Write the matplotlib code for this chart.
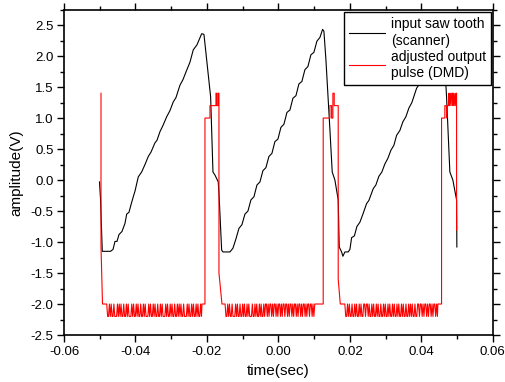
import numpy as np
import matplotlib.pyplot as plt
from matplotlib.ticker import MultipleLocator, FormatStrFormatter

plt.rcParams['font.family'] = ['Liberation Sans', 'DejaVu Sans']

# input saw tooth (scanner)
saw_t = [-0.05007, -0.04979, -0.04929, -0.04699,
         -0.04629, -0.04573, -0.04517, -0.04462, -0.04378, -0.04294, -0.04246,
         -0.04182, -0.04126, -0.04062, -0.04014, -0.03922, -0.03827, -0.03734,
         -0.03642, -0.03566, -0.03455, -0.03399, -0.03315, -0.03231, -0.03127,
         -0.03035, -0.02943, -0.02867, -0.02755, -0.02671, -0.02568, -0.02476,
         -0.02383, -0.02280, -0.02148, -0.02084,
         -0.01897, -0.01832, -0.01776, -0.01684, -0.01656, -0.01589, -0.01552,
         -0.01357,
         -0.01273, -0.01189, -0.01105, -0.01021, -0.00937, -0.00853, -0.00769,
         -0.00685, -0.00601, -0.00517, -0.00434, -0.00350, -0.00266, -0.00182,
         -0.00098, -0.00014, 0.00070, 0.00154, 0.00238, 0.00322, 0.00406,
         0.00490, 0.00573, 0.00657, 0.00741, 0.00825, 0.00909, 0.00993,
         0.01077, 0.01161, 0.01236,
         0.01273, 0.01329, 0.01441, 0.01505, 0.01580, 0.01673, 0.01701,
         0.01768, 0.01804, 0.01860, 0.01952,
         0.02000, 0.02048, 0.02126, 0.02196, 0.02280, 0.02364, 0.02467,
         0.02531, 0.02652, 0.02727, 0.02811, 0.02895, 0.02979, 0.03063,
         0.03147, 0.03231, 0.03306, 0.03399, 0.03483, 0.03566, 0.03650,
         0.03734, 0.03866, 0.03958, 0.04042, 0.04126, 0.04210, 0.04294,
         0.04378, 0.04462, 0.04545, 0.04601,
         0.04705, 0.04797, 0.04881, 0.04985, 0.04993]
saw_v = [-0.03, -0.30, -1.15, -1.15,
         -1.12, -0.99, -0.99, -0.88, -0.83, -0.70, -0.55,
         -0.52, -0.40, -0.27, -0.18, 0.05, 0.13, 0.25,
         0.38, 0.45, 0.60, 0.64, 0.78, 0.88, 1.02,
         1.12, 1.26, 1.33, 1.53, 1.62, 1.77, 1.90,
         2.10, 2.18, 2.36, 2.35,
         1.34, 0.13, 0.08, -0.03, -0.30, -1.13, -1.16,
         -1.16,
         -1.10, -0.95, -0.78, -0.72, -0.55, -0.50, -0.32,
         -0.27, -0.08, -0.03, 0.15, 0.20, 0.38, 0.43,
         0.62, 0.66, 0.85, 0.90, 1.09, 1.13, 1.32,
         1.36, 1.55, 1.59, 1.78, 1.83, 2.02, 2.06,
         2.24, 2.30, 2.43,
         2.40, 1.94, 0.81, 0.13, 0.00, -0.32, -1.08,
         -1.16, -1.23, -1.16, -1.16,
         -1.12, -0.93, -0.90, -0.75, -0.68, -0.55, -0.38,
         -0.33, -0.14, -0.08, 0.06, 0.13, 0.26, 0.35,
         0.48, 0.56, 0.72, 0.80, 0.94, 1.02, 1.16,
         1.25, 1.48, 1.56, 1.70, 1.78, 1.93, 2.00,
         2.15, 2.24, 2.42, 2.40,
         1.34, 0.13, 0.00, -0.32, -1.08]

# adjusted output pulse (DMD): edges and plateaus
pulse_t = [-0.04965, -0.04965, -0.04923, -0.04817,
           -0.02140, -0.02056, -0.02056, -0.01916, -0.01916, -0.01748, -0.01748,
           -0.01729, -0.01729, -0.01692, -0.01692, -0.01664, -0.01664, -0.01580,
           -0.01505,
           0.01029, 0.01253, 0.01253, 0.01441, 0.01441, 0.01488, 0.01488,
           0.01524, 0.01524, 0.01561, 0.01561, 0.01673, 0.01673, 0.01731,
           0.01846,
           0.04462, 0.04565, 0.04565, 0.04657, 0.04657, 0.04700, 0.04710,
           0.04730, 0.04760, 0.04770, 0.04790, 0.04810, 0.04830, 0.04850,
           0.04870, 0.04880, 0.04900, 0.04920, 0.04940, 0.04960, 0.04975,
           0.04985, 0.04985]
pulse_v = [1.40, -1.07, -2.00, -2.00,
           -2.00, -2.00, 1.00, 1.00, 1.20, 1.20, 1.40,
           1.40, 1.20, 1.20, 1.40, 1.40, -1.50, -2.00,
           -2.00,
           -2.00, -2.00, 1.00, 1.00, 1.20, 1.20, 1.00,
           1.00, 1.40, 1.40, 1.20, 1.20, -1.60, -2.00,
           -2.00,
           -2.00, -2.00, 1.00, 1.00, 1.20, 1.20, 1.00,
           1.20, 1.20, 1.40, 1.20, 1.40, 1.20, 1.40,
           1.40, 1.20, 1.40, 1.20, 1.40, 1.20, 1.40,
           1.40, -0.81]

# noisy low level of the pulse: '0' -> -2.0 V, '1' -> -2.2 V
noise_spans = [(-0.04817, -0.02140), (-0.01505, 0.01029), (0.01846, 0.04462)]
noise_codes = [
    "01101011011101010110110101110101101011011010111010110101101101011101011010110110101011011101011010110101101",
    "0110101101110101101101011010111011010110101101001010010100101001010010010100101001010010100101001001010",
    "01101011011010110101100100101101011010110110101101011010110101101011011010101101100100101001010010100101",
]
noise_levels = [-2.0, -2.2]

# merge noise samples into the pulse trace
nt, nv = [], []
for (t0, t1), code in zip(noise_spans, noise_codes):
    dt = (t1 - t0) / len(code)
    for i, c in enumerate(code):
        nt.append(t0 + (i + 0.5) * dt)
        nv.append(noise_levels[int(c)])
red_t = np.concatenate([pulse_t, nt])
red_v = np.concatenate([pulse_v, nv])
order = np.argsort(red_t, kind='stable')
red_t, red_v = red_t[order], red_v[order]

fig = plt.figure(figsize=(5.06, 3.82), dpi=100)
ax = fig.add_axes([0.1265, 0.123, 0.8475, 0.852])

ax.plot(saw_t, saw_v, color='black', lw=0.8, label='input saw tooth\n(scanner)')
ax.plot(red_t, red_v, color='red', lw=0.8, label='adjusted output\npulse (DMD)')

ax.set_xlim(-0.06, 0.06)
ax.set_ylim(-2.5, 2.75)
ax.xaxis.set_major_locator(MultipleLocator(0.02))
ax.xaxis.set_minor_locator(MultipleLocator(0.01))
ax.yaxis.set_major_locator(MultipleLocator(0.5))
ax.yaxis.set_minor_locator(MultipleLocator(0.25))
ax.xaxis.set_major_formatter(FormatStrFormatter('%.2f'))
ax.yaxis.set_major_formatter(FormatStrFormatter('%.1f'))

ax.tick_params(which='both', direction='out', top=True, right=True,
               labelsize=9.5, width=1)
ax.tick_params(axis='x', which='major', length=5, pad=3)
ax.tick_params(axis='y', which='major', length=5, pad=2.5)
ax.tick_params(which='minor', length=3)
for s in ax.spines.values():
    s.set_linewidth(1.2)

ax.set_xlabel('time(sec)', fontsize=11, labelpad=4)
ax.set_ylabel('amplitude(V)', fontsize=11, labelpad=5)

leg = ax.legend(loc='upper right', bbox_to_anchor=(0.995, 0.991),
                borderaxespad=0, fontsize=10, fancybox=False, framealpha=1,
                edgecolor='black', handlelength=2.6, handletextpad=0.4,
                labelspacing=0.15, borderpad=0.35)
leg.get_frame().set_linewidth(1.0)

fig.savefig('out.png', dpi=100)
